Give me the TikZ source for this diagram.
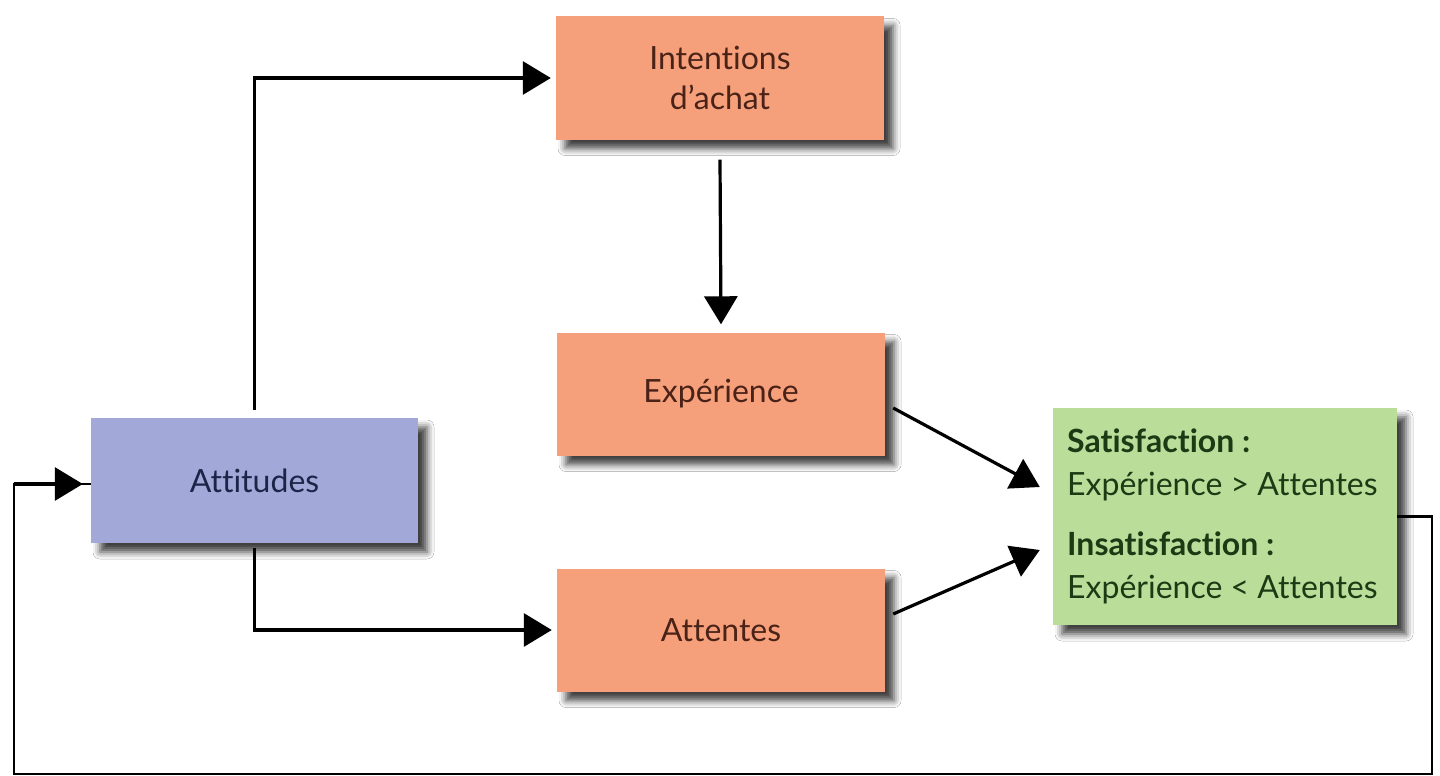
\documentclass[tikz,border=0pt]{standalone}
\usepackage{fontspec}
\setmainfont[Ligatures={NoCommon}]{Lato}
\usetikzlibrary{arrows.meta,shadows.blur}
\definecolor{orangebox}{HTML}{F5A07A}
\definecolor{bluebox}{HTML}{A2A8D8}
\definecolor{greenbox}{HTML}{BADD9A}
\definecolor{browntext}{HTML}{4A2218}
\definecolor{bluetext}{HTML}{1E2448}
\definecolor{greentext}{HTML}{1C3A14}
\begin{document}
\begin{tikzpicture}[x=1pt,y=-1pt,
  box/.style={draw=none, inner sep=0pt, align=center,
    font=\fontsize{32}{40}\selectfont,
    blur shadow={shadow xshift=9pt, shadow yshift=-9pt, shadow blur radius=7pt, shadow opacity=75}},
  obox/.style={box, fill=orangebox, text=browntext, minimum width=328pt, minimum height=123pt},
  bbox/.style={box, fill=bluebox, text=bluetext, minimum width=327pt, minimum height=125pt},
  gbox/.style={box, fill=greenbox, text=greentext, minimum width=344pt, minimum height=217pt},
  arr/.style={line width=3.2pt, -{Triangle[length=28pt,width=33pt]}},
  fb/.style={line width=2.2pt}]
\useasboundingbox (0,0) rectangle (1440,776);
\fill[white] (0,0) rectangle (1440,776);
\node[obox] (int) at (720,78) {Intentions\\d’achat};
\node[obox] (exp) at (721,394) {Expérience};
\node[obox] (atn) at (721,630) {Attentes};
\node[bbox] (att) at (254.5,480.5) {Attitudes};
\node[gbox] (sat) at (1225,516.5) {};
\node[text=greentext, align=left, anchor=west, inner sep=0pt, font=\fontsize{32}{43}\selectfont] (sattext) at (1067,516)
  {\textbf{Satisfaction :}\\Expérience > Attentes\\[17pt]\textbf{Insatisfaction :}\\Expérience < Attentes};
\draw[arr] ([yshift=8pt]att.north) |- ([xshift=-5pt]int.west);
\draw[arr] ([yshift=-20pt]int.south) -- ([yshift=8pt]exp.north);
\draw[arr] ([yshift=-5pt]att.south) |- ([xshift=-5pt]atn.west);
\draw[arr] ([xshift=8pt,yshift=-14pt]exp.east) -- ([xshift=-13pt,yshift=29.5pt]sat.west);
\draw[arr] ([xshift=8pt,yshift=16pt]atn.east) -- ([xshift=-13pt,yshift=-33.5pt]sat.west);
\coordinate (c1) at (1432,516.5);
\coordinate (c2) at (1432,774);
\coordinate (c3) at (14,774);
\coordinate (c4) at (14,484);
\draw[fb] (sat.east) -- (c1) -- (c2) -- (c3) -- (c4) -- (c4 -| att.west);
\draw[arr] (c4) -- ([xshift=-8pt,yshift=-3.5pt]att.west);
\end{tikzpicture}
\end{document}
